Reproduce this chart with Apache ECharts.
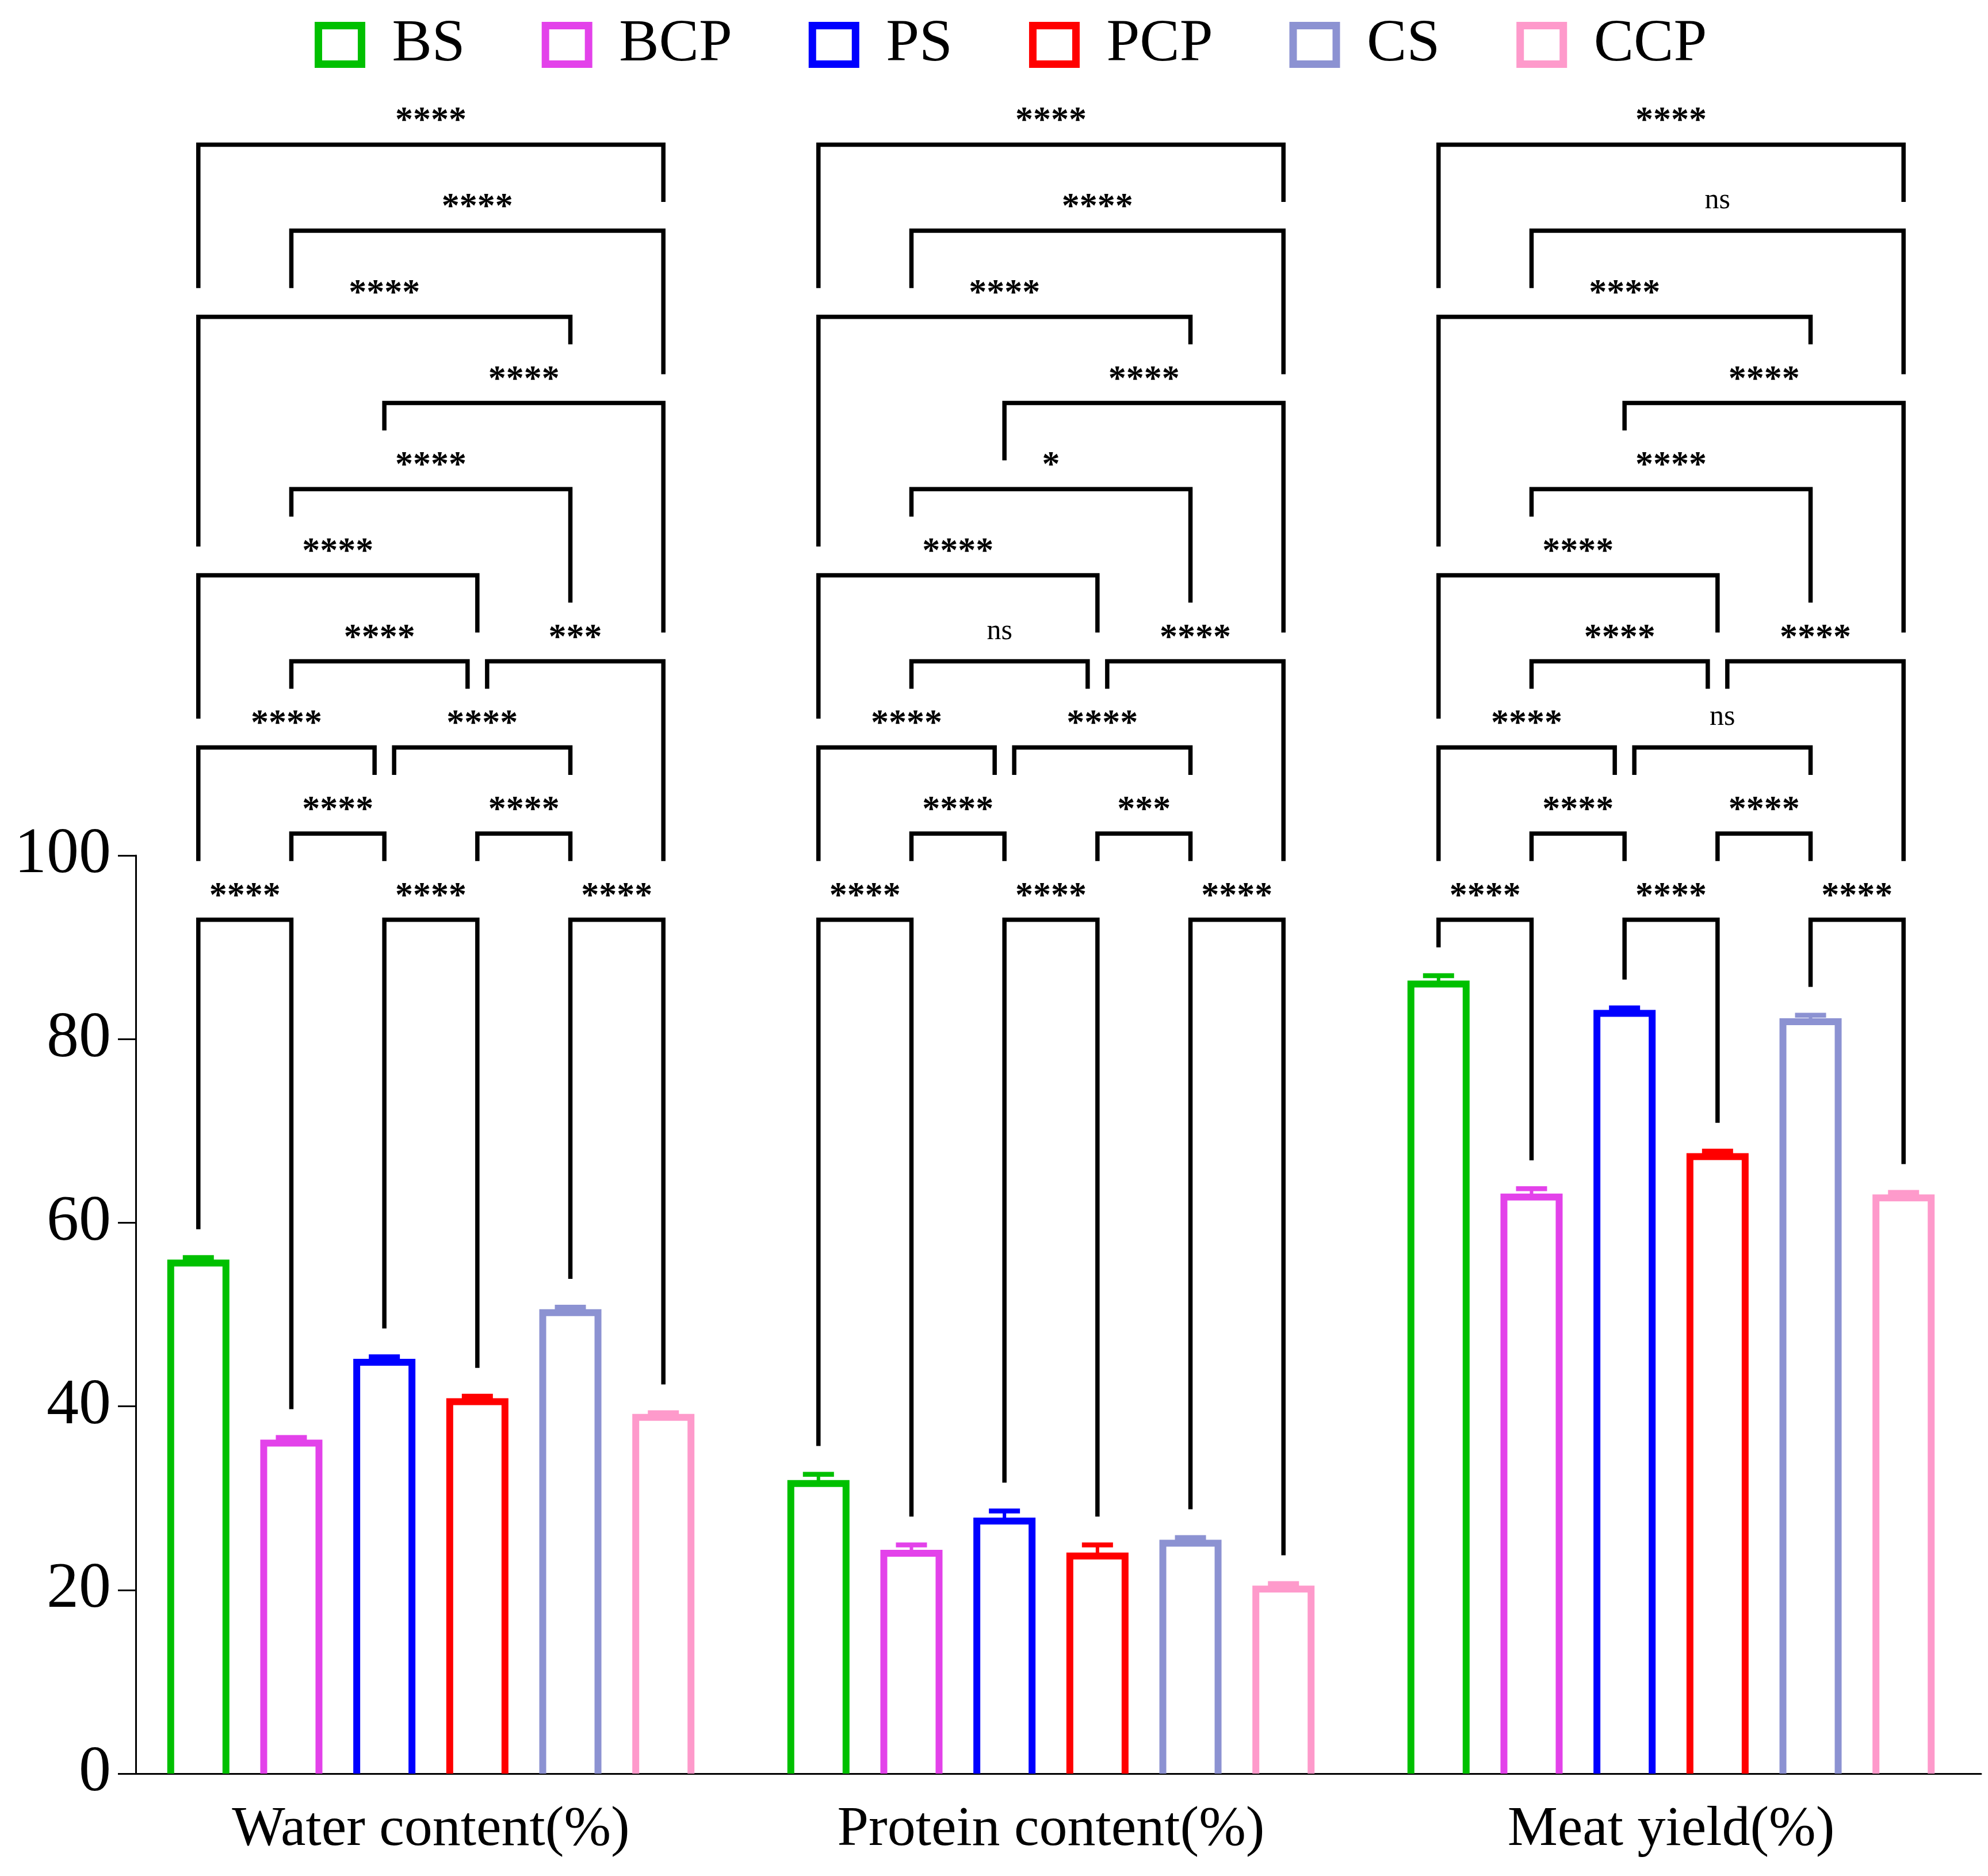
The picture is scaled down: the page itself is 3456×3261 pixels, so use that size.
<!DOCTYPE html>
<html><head><meta charset="utf-8">
<script src="https://cdn.jsdelivr.net/npm/echarts@6/dist/echarts.min.js"></script>
<style>html,body{margin:0;padding:0;background:#fff}#c{width:3456px;height:3261px}</style>
</head><body><div id="c"></div>
<script>
// ---- data ----
const categories = ['Water content(%)', 'Protein content(%)', 'Meat yield(%)'];
const groups = ['BS', 'BCP', 'PS', 'PCP', 'CS', 'CCP'];
const BS_mean = [55.6, 31.6, 86.0];
const BS_err = [0.6, 1.0, 0.9];
const BCP_mean = [36.0, 24.0, 62.8];
const BCP_err = [0.6, 0.9, 0.9];
const PS_mean = [44.8, 27.5, 82.8];
const PS_err = [0.6, 1.1, 0.6];
const PCP_mean = [40.5, 23.7, 67.2];
const PCP_err = [0.6, 1.2, 0.6];
const CS_mean = [50.2, 25.1, 81.9];
const CS_err = [0.6, 0.6, 0.7];
const CCP_mean = [38.8, 20.1, 62.7];
const CCP_err = [0.5, 0.6, 0.6];
const yTicks = [0, 20, 40, 60, 80, 100];
// pairwise comparisons (group indices) and their bracket row
const pairs = [[0,1],[2,3],[4,5],[1,2],[3,4],[0,2],[2,4],[1,3],[3,5],[0,3],[1,4],[2,5],[0,4],[1,5],[0,5]];
const pairRow = [1,1,1,2,2,3,3,4,4,5,6,7,8,9,10];
const waterSig   = ['****','****','****','****','****','****','****','****','***','****','****','****','****','****','****'];
const proteinSig = ['****','****','****','****','***','****','****','ns','****','****','*','****','****','****','****'];
const meatSig    = ['****','****','****','****','****','****','ns','****','****','****','****','****','****','ns','****'];

const means = [BS_mean, BCP_mean, PS_mean, PCP_mean, CS_mean, CCP_mean];
const errs = [BS_err, BCP_err, PS_err, PCP_err, CS_err, CCP_err];
const sigs = [waterSig, proteinSig, meatSig];
const colors = ['#00C000', '#E342EA', '#0000FF', '#FF0000', '#8C92D2', '#FE9ACB'];

// ---- layout constants ----
const CAT_GAP = 0.161, BAR_GAP = 0.684;
const ROW_BASE = 93.0, ROW_STEP = 9.38;
const SHIFT = 17, LINE_TOL = 20, GAP = 50, TEXT_TOP = 52, BAR_CLEAR = 45, TEXT_PAD = 50;
const CAP_W = 54, CAP_LW = 8.5, STEM_LW = 6, BAR_LW = 12, BR_LW = 7.5;
const FONT = '"Liberation Serif", "Times New Roman", serif';

function geom(api) {
  const band = api.size([1, 0])[0];
  const barW = band * (1 - CAT_GAP) / (6 + 5 * BAR_GAP);
  return { barW: barW, step: barW * (1 + BAR_GAP) };
}
function barCx(api, g, k) { return api.coord([g, 0])[0] + (k - 2.5) * geom(api).step; }
function rowY(api, g, row) { return api.coord([g, ROW_BASE + (row - 1) * ROW_STEP])[1]; }
function endX(api, g, p, side) {
  const k = pairs[p][side], row = pairRow[p];
  let x = barCx(api, g, k);
  for (let q = 0; q < pairs.length; q++) {
    if (q === p || pairRow[q] !== row) continue;
    if (side === 1 && pairs[q][0] === k) x -= SHIFT;
    if (side === 0 && pairs[q][1] === k) x += SHIFT;
  }
  return x;
}
function labelHalf(s) { let w = 0; for (const ch of s) w += (ch === '*' ? 31 : 21); return w / 2; }
function legEnd(api, g, p, side) {
  const sig = sigs[g];
  const x = endX(api, g, p, side), row = pairRow[p];
  let best = Infinity;
  for (let q = 0; q < pairs.length; q++) {
    if (pairRow[q] >= row) continue;
    const xa = endX(api, g, q, 0), xb = endX(api, g, q, 1), yq = rowY(api, g, pairRow[q]);
    if (x >= xa - LINE_TOL && x <= xb + LINE_TOL) best = Math.min(best, yq - GAP);
    if (Math.abs(x - (xa + xb) / 2) <= labelHalf(sig[q]) + TEXT_PAD) best = Math.min(best, yq - TEXT_TOP - GAP);
  }
  const k = pairs[p][side];
  const capTop = api.coord([g, means[k][g] + errs[k][g]])[1] - CAP_LW / 2;
  best = Math.min(best, capTop - BAR_CLEAR);
  return best;
}

const barSeries = groups.map(function (name, k) {
  return {
    type: 'custom', name: name, z: 2,
    itemStyle: { color: colors[k] },
    encode: { x: 0, y: 1 },
    data: categories.map(function (c, g) { return [g, means[k][g], errs[k][g]]; }),
    renderItem: function (params, api) {
      const g = api.value(0), m = api.value(1), e = api.value(2);
      const gm = geom(api);
      const cx = api.coord([g, 0])[0] + (k - 2.5) * gm.step;
      const y0 = api.coord([g, 0])[1], yt = api.coord([g, m])[1], ye = api.coord([g, m + e])[1];
      const hw = gm.barW / 2;
      return {
        type: 'group', children: [
          { type: 'polyline', shape: { points: [[cx - hw, y0], [cx - hw, yt], [cx + hw, yt], [cx + hw, y0]] },
            style: { stroke: colors[k], lineWidth: BAR_LW, fill: null, lineJoin: 'miter' } },
          { type: 'line', shape: { x1: cx, y1: yt, x2: cx, y2: ye }, style: { stroke: colors[k], lineWidth: STEM_LW } },
          { type: 'line', shape: { x1: cx - CAP_W / 2, y1: ye, x2: cx + CAP_W / 2, y2: ye }, style: { stroke: colors[k], lineWidth: CAP_LW } }
        ]
      };
    }
  };
});

const sigData = [];
categories.forEach(function (c, g) { pairs.forEach(function (pr, p) { sigData.push([g, p]); }); });

const sigSeries = {
  type: 'custom', name: 'significance', z: 5, clip: false, silent: true,
  encode: { x: 0 },
  data: sigData,
  renderItem: function (params, api) {
    const g = api.value(0), p = api.value(1);
    const label = sigs[g][p];
    const y = rowY(api, g, pairRow[p]);
    const xa = endX(api, g, p, 0), xb = endX(api, g, p, 1);
    const ya = legEnd(api, g, p, 0), yb = legEnd(api, g, p, 1);
    const stars = /^\*+$/.test(label);
    return {
      type: 'group', children: [
        { type: 'polyline', shape: { points: [[xa, ya], [xa, y], [xb, y], [xb, yb]] },
          style: { stroke: '#000', lineWidth: BR_LW, fill: null, lineJoin: 'miter', lineCap: 'butt' } },
        { type: 'text', style: { text: label, x: (xa + xb) / 2, y: stars ? y - 40 : y - 52,
          align: 'center', verticalAlign: 'middle', fill: '#000',
          font: (stars ? 'bold 62px ' : '50px ') + FONT } }
      ]
    };
  }
};

const chart = echarts.init(document.getElementById('c'), null, { renderer: 'canvas' });
chart.setOption({
  animation: false,
  backgroundColor: '#fff',
  legend: {
    top: 26, left: 547, padding: 0, itemGap: 133, itemWidth: 75, itemHeight: 67, icon: 'rect',
    selectedMode: false,
    textStyle: { fontFamily: FONT, fontSize: 104, color: '#000', padding: [0, 0, 0, 48] },
    data: groups.map(function (n, k) {
      return { name: n, icon: 'rect', itemStyle: { color: '#fff', borderColor: colors[k], borderWidth: 13 } };
    })
  },
  grid: { left: 210, right: 12, top: 1487, bottom: 178 },
  xAxis: {
    type: 'category', data: categories,
    axisLine: { lineStyle: { color: '#000', width: 3 } },
    axisTick: { alignWithLabel: true, length: 31, lineStyle: { color: '#000', width: 3 } },
    axisLabel: { fontFamily: FONT, fontSize: 98, color: '#000', margin: 49, interval: 0 }
  },
  yAxis: {
    type: 'value', min: yTicks[0], max: yTicks[yTicks.length - 1], interval: yTicks[1] - yTicks[0], offset: -26,
    axisLine: { show: true, lineStyle: { color: '#000', width: 3 } },
    axisTick: { show: true, length: 31, lineStyle: { color: '#000', width: 3 } },
    axisLabel: { fontFamily: FONT, fontSize: 112, color: '#000', margin: 43 },
    splitLine: { show: false }
  },
  series: barSeries.concat([sigSeries])
});
</script>
</body></html>
